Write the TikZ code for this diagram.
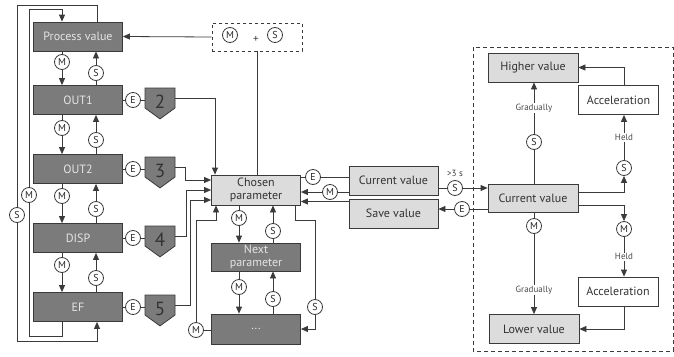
\documentclass[tikz,border=0pt]{standalone}
\usepackage{fontspec}
\setmainfont{PT Sans}
\usetikzlibrary{arrows.meta,shapes.symbols}
\definecolor{menugray}{HTML}{7B7B7B}
\definecolor{valgray}{HTML}{DCDCDC}
\definecolor{linegray}{HTML}{3A3A3A}
\tikzset{
	box/.style={draw=linegray, line width=.8pt, minimum width=89pt, minimum height=29pt, inner sep=1pt, align=center, font=\fontsize{12}{13.5}\selectfont},
	menubox/.style={box, fill=menugray, text=white!90!black},
	valbox/.style={box, fill=valgray, text=black!80},
	accbox/.style={box, fill=white, text=black!80, minimum width=80pt},
	key/.style={circle, draw=linegray, fill=white, line width=.8pt, minimum size=15pt, inner sep=0pt, text=black!85, font=\fontsize{10}{10}\selectfont},
	badge/.style={signal, signal to=south, signal from=nowhere, signal pointer angle=108, draw=linegray, fill=menugray, minimum width=30pt, minimum height=20pt, inner sep=0pt},
	badgenum/.style={yshift=-4pt, inner sep=0pt, text=black!80, font=\fontsize{19}{19}\selectfont},
	lbl/.style={fill=white, inner sep=1pt, text=black!70, font=\fontsize{9}{9}\selectfont},
	arr/.style={-{Triangle[length=7pt,width=6pt]}}
}
\begin{document}
\begin{tikzpicture}[x=1pt, y=-1pt, line width=.8pt, color=linegray]
	\useasboundingbox (0,0) rectangle (674,356);
	% left column
	\node[menubox] (pv) at (78,36.5) {Process value};
	\node[menubox] (o1) at (78,100) {OUT1};
	\node[menubox] (o2) at (78,169) {OUT2};
	\node[menubox] (disp) at (78,238) {DISP};
	\node[menubox] (ef) at (78,307) {EF};
	\node[key] (m1) at (62,62) {M};	\node[key] (s1) at (96,73) {S};
	\node[key] (m2) at (62,128) {M};	\node[key] (s2) at (96,140) {S};
	\node[key] (m3) at (62,196) {M};	\node[key] (s3) at (96,209) {S};
	\node[key] (m4) at (62,265) {M};	\node[key] (s4) at (96,278) {S};
	\draw (pv.south -| m1) -- (m1);	\draw[arr] (m1) -- (o1.north -| m1);
	\draw (o1.north -| s1) -- (s1);	\draw[arr] (s1) -- (pv.south -| s1);
	\draw (o1.south -| m2) -- (m2);	\draw[arr] (m2) -- (o2.north -| m2);
	\draw (o2.north -| s2) -- (s2);	\draw[arr] (s2) -- (o1.south -| s2);
	\draw (o2.south -| m3) -- (m3);	\draw[arr] (m3) -- (disp.north -| m3);
	\draw (disp.north -| s3) -- (s3);	\draw[arr] (s3) -- (o2.south -| s3);
	\draw (disp.south -| m4) -- (m4);	\draw[arr] (m4) -- (ef.north -| m4);
	\draw (ef.north -| s4) -- (s4);	\draw[arr] (s4) -- (disp.south -| s4);
	% wrap round
	\node[key] (m5) at (29,195) {M};	\node[key] (s5) at (17,215) {S};
	\draw ([xshift=-16pt]ef.south) -- ++(0,14) -| (m5);
	\draw[arr] (m5) |- ([xshift=-16pt,yshift=12pt]pv.north) -- ([xshift=-16pt]pv.north);
	\draw ([xshift=19pt]pv.north) -- ++(0,-16) -| (s5);
	\draw[arr] (s5) |- ([xshift=19pt,yshift=-19pt]ef.south) -- ([xshift=19pt]ef.south);
	% E keys and badges
	\node[key] (e1) at (133,100) {E};	\node[badge, label={[badgenum]center:2}] (b2) at (160,98) {};
	\node[key] (e2) at (133,169) {E};	\node[badge, label={[badgenum]center:3}] (b3) at (160,167) {};
	\node[key] (e3) at (133,238) {E};	\node[badge, label={[badgenum]center:4}] (b4) at (160,236) {};
	\node[key] (e4) at (133,307) {E};	\node[badge, label={[badgenum]center:5}] (b5) at (160,305) {};
	\draw (o1) -- (e1) -- (e1 -| b2.west);	\draw (o2) -- (e2) -- (e2 -| b3.west);
	\draw (disp) -- (e3) -- (e3 -| b4.west);	\draw (ef) -- (e4) -- (e4 -| b5.west);
	% parameters
	\node[valbox, minimum height=30pt] (cp) at (256,190) {Chosen\\parameter};
	\node[menubox, minimum height=28pt] (np) at (256,257) {Next\\parameter};
	\node[menubox, minimum height=30pt] (dots) at (256,329) {...};
	\draw[arr] (b2.east) -| ([xshift=-41pt]cp.north);
	\draw[arr] (b3.east) -- ++(10,0) |- ([yshift=10pt]cp.west);
	\draw[arr] (b4.east) -- ++(11,0) |- (cp.west);
	\draw[arr] (b5.east) -- ++(15,0) |- ([yshift=-10pt]cp.west);
	\node[key] (m7) at (196,330) {M};
	\draw (m7) -- (m7 -| dots.west);
	\draw[arr] (m7) |- ([xshift=-40pt,yshift=-15pt]cp.south) -- ([xshift=-40pt]cp.south);
	\node[key] (m10) at (239,218) {M};	\node[key] (s10) at (273,231) {S};
	\node[key] (m11) at (239,287) {M};	\node[key] (s11) at (273,299) {S};
	\draw (cp.south -| m10) -- (m10);	\draw[arr] (m10) -- (np.north -| m10);
	\draw (np.north -| s10) -- (s10);	\draw[arr] (s10) -- (cp.south -| s10);
	\draw (np.south -| m11) -- (m11);	\draw[arr] (m11) -- (dots.north -| m11);
	\draw (dots.north -| s11) -- (s11);	\draw[arr] (s11) -- (np.south -| s11);
	\node[key] (s12) at (315,307) {S};
	\draw ([xshift=39pt]cp.south) -- ++(0,15) -| (s12);	\draw[arr] (s12) |- (dots.east);
	% M + S
	\node[draw, dashed, minimum width=90pt, minimum height=28pt] (ms) at (257,37) {};
	\node[key] (m0) at (230,35) {M};	\node[key] (s0) at (275,35) {S};
	\node[font=\fontsize{11}{11}\selectfont] (plus) at (256,39) {+};
	\draw[arr] (ms.west) -- (pv.east);
	\draw (ms.south) -- (ms.south |- cp.north);
	% current / save value
	\node[valbox] (cv) at (393.5,180.5) {Current value};
	\node[valbox] (sv) at (393.5,213.5) {Save value};
	\node[key] (e5) at (313,177) {E};	\node[key] (m6) at (330,192) {M};
	\draw (cv.west |- e5) -- (e5) -- (e5 -| cp.east);
	\draw (cv.west |- m6) -- (m6);	\draw[arr] (m6) -- (m6 -| cp.east);
	\draw[arr] ([yshift=12pt]sv.west) -- ([yshift=12pt]sv.west -| cp.east);
	% value setting
	\draw[dashed, dash pattern=on 4pt off 3pt] (473,47) rectangle (673,351);
	\node[valbox, minimum width=90pt] (hv) at (533,67.5) {Higher value};
	\node[accbox] (ac1) at (618.5,100) {Acceleration};
	\node[valbox, minimum width=90pt, minimum height=28pt] (cv2) at (533,198) {Current value};
	\node[accbox] (ac2) at (618,291.5) {Acceleration};
	\node[valbox, minimum width=90pt] (lv) at (534,329) {Lower value};
	\node[key] (s6) at (455,188) {S};	\node[font=\fontsize{9}{9}\selectfont] (gt3) at (455,173) {>3 s};
	\node[key] (e6) at (462,209) {E};
	\draw (cv.east |- s6) -- (s6);	\draw[arr] (s6) -- (s6 -| cv2.west);
	\draw (cv2.west |- e6) -- (e6);	\draw[arr] (e6) -- (e6 -| sv.east);
	\node[key] (s7) at (534,142) {S};	\node[key] (s8) at (624,168) {S};
	\node[key] (m8) at (534,226) {M};	\node[key] (m9) at (624,229) {M};
	\draw (cv2.north -| s7) -- (s7);	\draw[arr] (s7) -- node[lbl] {Gradually} (hv.south -| s7);
	\draw[arr] ([yshift=6pt]cv2.east) -| (s8);
	\draw[arr] (s8) -- node[lbl] {Held} (ac1.south -| s8);
	\draw[arr] (ac1.north -| s8) |- (hv.east);
	\draw (cv2.south -| m8) -- (m8);	\draw[arr] (m8) -- node[lbl, pos=.7] {Gradually} (lv.north -| m8);
	\draw[arr] ([yshift=-7pt]cv2.east) -| (m9);
	\draw[arr] (m9) -- node[lbl] {Held} (ac2.north -| m9);
	\draw[arr] (ac2.south -| m9) |- (lv.east);
\end{tikzpicture}
\end{document}
